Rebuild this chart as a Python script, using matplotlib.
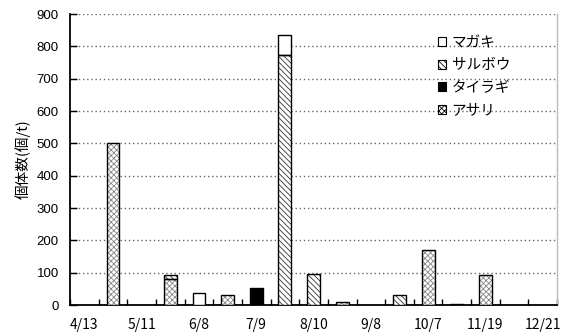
import matplotlib
matplotlib.use('Agg')
import matplotlib.pyplot as plt
from matplotlib.patches import Patch
import numpy as np

plt.rcParams['font.family'] = ['Noto Sans CJK JP', 'DejaVu Sans']
plt.rcParams['hatch.linewidth'] = 0.6

# 調査日 (ラベルは1つおき)
dates = ['4/13', '', '5/11', '', '6/8', '', '7/9', '', '8/10', '',
         '9/8', '', '10/7', '', '11/19', '', '12/21']

# 個体数 (個/t)
magaki = [0, 0, 0, 0, 38, 0, 0, 60, 0, 0, 0, 0, 0, 0, 0, 0, 0]
saruboo = [0, 0, 0, 12, 0, 0, 0, 775, 95, 0, 0, 32, 0, 0, 0, 0, 0]
tairagi = [0, 0, 0, 0, 0, 0, 52, 0, 0, 0, 0, 0, 0, 3, 0, 0, 0]
asari = [0, 500, 0, 82, 0, 30, 0, 0, 0, 10, 0, 0, 170, 0, 92, 0, 0]

yticks = [0, 100, 200, 300, 400, 500, 600, 700, 800, 900]

# 積み上げ順: 下から アサリ -> タイラギ -> サルボウ -> マガキ
series = [
    ('アサリ', asari, dict(facecolor='white', hatch='xxxxxx', hatch_color='#888888')),
    ('タイラギ', tairagi, dict(facecolor='black', hatch=None, hatch_color=None)),
    ('サルボウ', saruboo, dict(facecolor='white', hatch='\\\\\\\\\\\\', hatch_color='#333333')),
    ('マガキ', magaki, dict(facecolor='white', hatch=None, hatch_color=None)),
]

fig = plt.figure(figsize=(5.67, 3.36), dpi=100)
ax = fig.add_axes([0.1235, 0.092, 0.859, 0.866])

x = np.arange(len(dates))
width = 0.45
bottom = np.zeros(len(dates))
for name, vals, st in series:
    v = np.array(vals, dtype=float)
    m = v > 0
    if st['hatch']:
        # ハッチ部分(灰色の線)
        ax.bar(x[m], v[m], width, bottom=bottom[m], color=st['facecolor'],
               edgecolor=st['hatch_color'], hatch=st['hatch'], linewidth=0, zorder=3)
        ax.bar(x[m], v[m], width, bottom=bottom[m], fill=False,
               edgecolor='black', linewidth=1.0, zorder=4)
    else:
        ax.bar(x[m], v[m], width, bottom=bottom[m], color=st['facecolor'],
               edgecolor='black', linewidth=1.0, zorder=3)
    bottom += v

ax.set_xlim(-0.5, len(dates) - 0.5)
ax.set_ylim(0, 900)
ax.set_yticks(yticks)
ax.set_yticklabels([str(t) for t in yticks], fontsize=9.5, family='Liberation Sans')
ax.tick_params(axis='y', direction='in', length=5, width=1, pad=8)

ax.set_xticks(x)
ax.set_xticklabels(dates, fontsize=10)
ax.tick_params(axis='x', which='major', length=0, pad=9)
ax.set_xticks(np.arange(-0.5, len(dates)), minor=True)
ax.tick_params(axis='x', which='minor', direction='in', length=4, width=1)

ax.yaxis.grid(True, linestyle=(0, (1, 2)), color='#666666', linewidth=1.0, zorder=0)
ax.set_axisbelow(True)

ax.spines['left'].set_linewidth(1.3)
ax.spines['bottom'].set_linewidth(1.3)
ax.spines['top'].set_visible(False)
ax.spines['right'].set_color('#bbbbbb')
ax.spines['right'].set_linewidth(1.0)

ax.set_ylabel('個体数(個/t)', fontsize=10.5, labelpad=4)

handles = []
labels = []
for name, vals, st in reversed(series):
    handles.append(Patch(facecolor=st['facecolor'], edgecolor='black',
                         hatch=st['hatch'], linewidth=0.8))
    labels.append(name)
ax.legend(handles, labels, loc='upper left', bbox_to_anchor=(0.728, 0.97),
          frameon=False, fontsize=10.5, handlelength=0.6, handleheight=0.6,
          handletextpad=0.35, labelspacing=0.58)

fig.savefig('out.png', dpi=100)
